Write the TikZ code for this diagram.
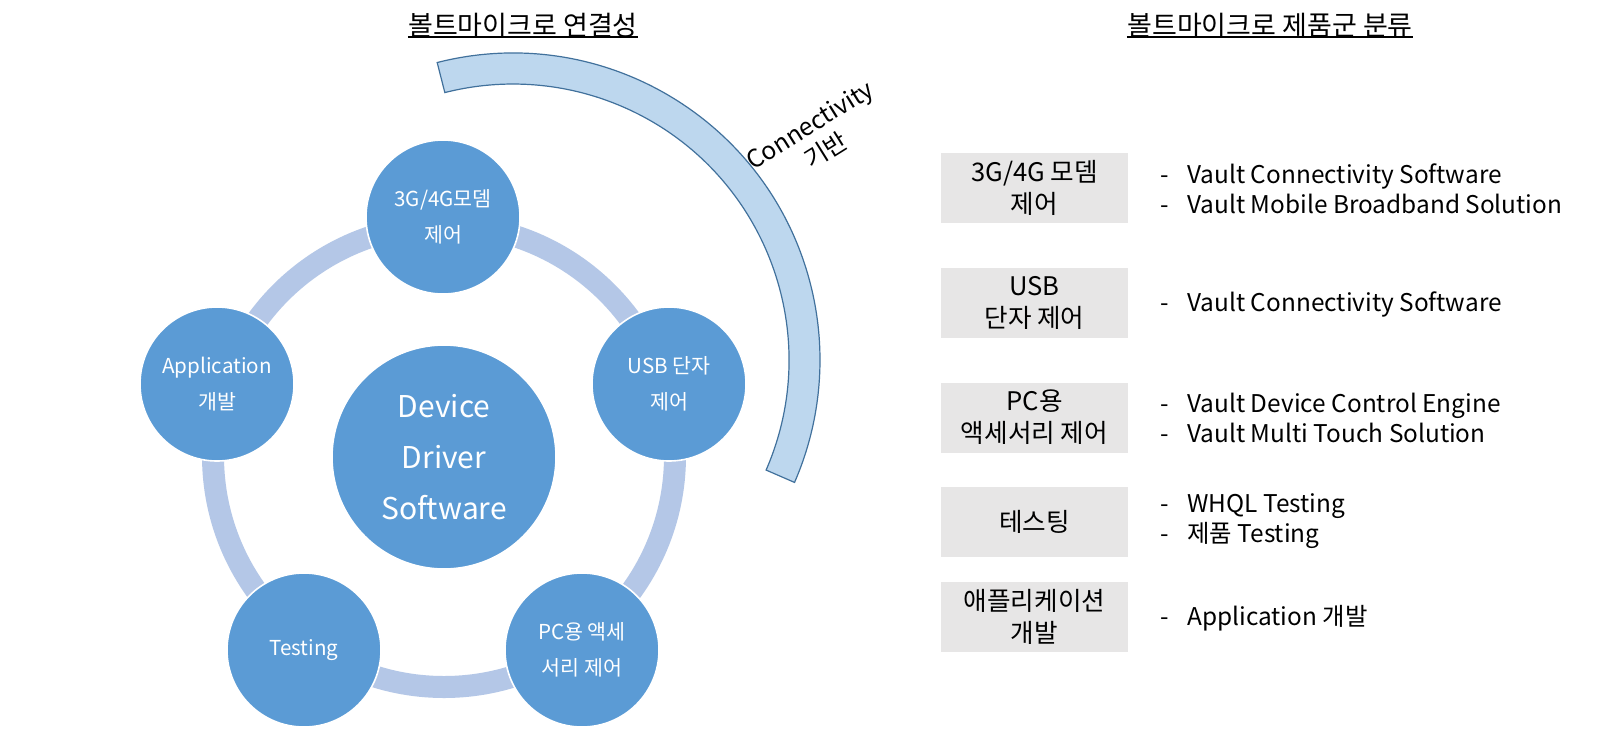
\documentclass[tikz,border=0pt]{standalone}
\usepackage{fontspec}
\setmainfont{Noto Sans CJK KR}
\definecolor{circ}{HTML}{5B9BD5}
\definecolor{ringc}{HTML}{B4C7E7}
\definecolor{arcfill}{HTML}{BDD7EE}
\definecolor{arcdraw}{HTML}{41719C}
\definecolor{boxgray}{HTML}{E7E6E6}
\tikzset{
  smallc/.style={circle, fill=circ, draw=white, line width=0.8pt, minimum size=77pt, inner sep=0pt, text=white, align=center, font=\fontsize{10.3}{18}\selectfont},
  bigc/.style={smallc, minimum size=112pt, font=\fontsize{15}{25.5}\selectfont},
  catbox/.style={fill=boxgray, minimum width=93.5pt, minimum height=35pt, inner sep=0pt, align=center, font=\fontsize{12.8}{16}\selectfont},
  item/.style={anchor=west, inner sep=0pt, align=left, font=\fontsize{12.2}{14.8}\selectfont},
  titlet/.style={inner sep=0pt, font=\fontsize{13.5}{16}\selectfont},
  uline/.style={line width=1pt},
  ringline/.style={draw=ringc, line width=11pt},
  arcshape/.style={fill=arcfill, draw=arcdraw, line width=0.6pt}
}
\newcommand{\dashitem}{\makebox[13.5pt][l]{-}}
\begin{document}
\begin{tikzpicture}[x=0.5pt,y=-0.5pt]
\useasboundingbox[fill=white] (0,0) rectangle (1600,730);
% titles
\node[titlet] (t1) at (523,25) {볼트마이크로 연결성};
\draw[uline] (t1.west |- 0,37) -- (t1.east |- 0,37);
\node[titlet] (t2) at (1270,25) {볼트마이크로 제품군 분류};
\draw[uline] (t2.west |- 0,37) -- (t2.east |- 0,37);
% big arc
\begin{scope}[shift={(513,360)}]
\draw[arcshape] (-104.3:307) arc[start angle=-104.3, end angle=23.5, radius=307]
  -- (23.5:276) arc[start angle=23.5, end angle=-104.3, radius=276] -- cycle;
\end{scope}
\node[rotate=32, align=center, inner sep=0pt, font=\fontsize{12.3}{15}\selectfont] (conn) at (818,138) {Connectivity\\기반};
% ring
\draw[ringline] (444,456) circle[radius=231];
% circles
\node[bigc] (center) at (444,457) {Device\\Driver\\Software};
\node[smallc] (modem) at (443,217) {3G/4G모뎀\\제어};
\node[smallc] (usb) at (669,384) {USB 단자\\제어};
\node[smallc] (pc) at (582,650) {PC용 액세\\서리 제어};
\node[smallc] (test) at (304,650) {Testing};
\node[smallc] (app) at (217,384) {Application\\개발};
% right boxes
\node[catbox] (b1) at (1034.5,188) {3G/4G 모뎀\\제어};
\node[catbox] (b2) at (1034.5,303) {USB\\단자 제어};
\node[catbox] (b3) at (1034.5,417.5) {PC용\\액세서리 제어};
\node[catbox] (b4) at (1034.5,521.5) {테스팅};
\node[catbox] (b5) at (1034.5,617) {애플리케이션\\개발};
% items
\node[item] (i1) at (1160,189) {\dashitem Vault Connectivity Software\\\dashitem Vault Mobile Broadband Solution};
\node[item] (i2) at (1160,304) {\dashitem Vault Connectivity Software};
\node[item] (i3) at (1160,418) {\dashitem Vault Device Control Engine\\\dashitem Vault Multi Touch Solution};
\node[item] (i4) at (1160,521) {\dashitem WHQL Testing\\\dashitem 제품 Testing};
\node[item] (i5) at (1160,618) {\dashitem Application 개발};
\end{tikzpicture}
\end{document}
